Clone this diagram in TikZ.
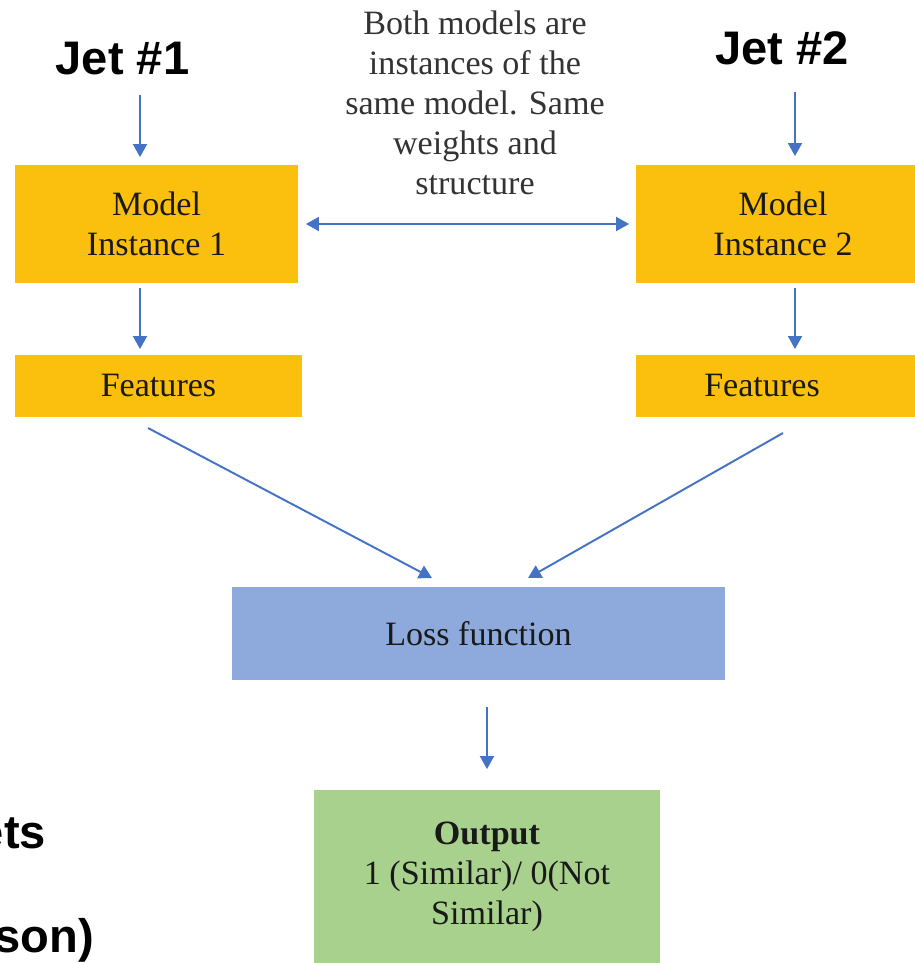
\documentclass[tikz,border=0pt]{standalone}
\usepackage{fontspec}
\setmainfont{Liberation Serif}
\newfontfamily\jetfont{Liberation Sans}
\usetikzlibrary{arrows.meta,positioning}
\definecolor{modelyellow}{HTML}{FBBF0E}
\definecolor{lossblue}{HTML}{8EA9DB}
\definecolor{outgreen}{HTML}{A9D18E}
\definecolor{flowblue}{HTML}{4472C4}
\tikzset{> = {Triangle[width=0.28cm,length=0.26cm]}, every picture/.style={line width=1.1pt}}

\begin{document}
\begin{tikzpicture}[x=0.02cm,y=-0.02cm,
    boxtext/.style={inner sep=0pt,align=center,text=black!90,font=\fontsize{19.4}{22.8}\selectfont},
    jettext/.style={inner sep=0pt,anchor=base,font=\jetfont\bfseries\fontsize{26.8}{30}\selectfont},
    flow/.style={->,draw=flowblue}]
\useasboundingbox (0,0) rectangle (914,963);
\fill[white] (0,0) rectangle (914,963);

% titles over the two branches
\node[jettext] (jet1) at (122.5,75) {Jet \#1};
\node[jettext] (jet2) at (782,65) {Jet \#2};
\node[jettext,anchor=base east] (cut1) at (47,848) {ets};
\node[jettext,anchor=base east] (cut2) at (95,952) {son)};

\begin{scope}[every node/.style={boxtext,fill=modelyellow}]
\node[minimum width=5.66cm,minimum height=2.36cm] (inst1) at (156.5,224) {Model\\Instance 1};
\node[minimum width=5.88cm,minimum height=2.36cm] (inst2) at (783,224) {Model\\Instance 2};
\node[minimum width=5.74cm,minimum height=1.24cm] (feat1) at (158.5,386) {Features};
\node[minimum width=5.88cm,minimum height=1.24cm,
      label={[boxtext,xshift=-0.42cm]center:Features}] (feat2) at (783,386) {};
\end{scope}

\node[boxtext,text=black!80] (note) at (475,103) {Both models are\\instances of the\\same model. Same\\weights and\\structure};

\node[boxtext,fill=lossblue,minimum width=9.86cm,minimum height=1.86cm] (loss) at (478.5,633.5) {Loss function};
\node[boxtext,fill=outgreen,minimum width=6.92cm,minimum height=3.46cm] (output) at (487,876.5)
    {\textbf{Output}\\1 (Similar)/ 0(Not\\Similar)};

% free ends of the connectors
\coordinate (j1tail) at (140,95);
\coordinate (j2tail) at (795,92);
\coordinate (f1tail) at (148,428);
\coordinate (f1tip) at (432,578);
\coordinate (f2tail) at (783,433);
\coordinate (f2tip) at (528,578);

\begin{scope}[every path/.style={flow}]
\draw (j1tail) -- (j1tail |- inst1.north) [shorten >=0.14cm];
\draw (j2tail) -- (j2tail |- inst2.north) [shorten >=0.16cm];
\draw[<->,shorten <=0.14cm,shorten >=0.12cm] (inst1.east) -- (inst2.west);
\draw[shorten <=0.08cm,shorten >=0.1cm] (j1tail |- inst1.south) -- (j1tail |- feat1.north);
\draw[shorten <=0.08cm,shorten >=0.1cm] (j2tail |- inst2.south) -- (j2tail |- feat2.north);
\draw (f1tail) -- (f1tip);
\draw (f2tail) -- (f2tip);
\draw[shorten <=0.52cm,shorten >=0.4cm] (output.north |- loss.south) -- (output.north);
\end{scope}
\end{tikzpicture}
\end{document}
